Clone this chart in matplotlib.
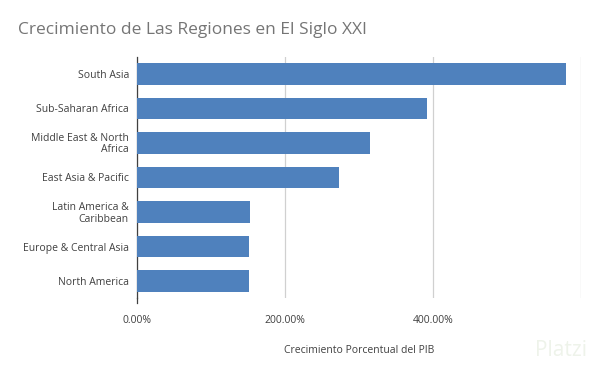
import matplotlib
matplotlib.use("Agg")
import matplotlib.pyplot as plt
from matplotlib.ticker import FuncFormatter

regions = ["South Asia", "Sub-Saharan Africa", "Middle East & North\nAfrica",
           "East Asia & Pacific", "Latin America &\nCaribbean",
           "Europe & Central Asia", "North America"]
growth = [5.79, 3.91, 3.14, 2.72, 1.52, 1.505, 1.505]
xticks = [0, 2, 4, 6]

plt.rcParams['font.family'] = ['Open Sans', 'DejaVu Sans']

fig = plt.figure(figsize=(6, 3.71), dpi=100)
ax = fig.add_axes([0.2288, 0.196, 0.7403, 0.6512])

ypos = list(range(len(regions)))
ax.barh(ypos, growth, height=0.63, color='#4f81bd', zorder=3)
ax.set_ylim(len(regions) - 0.5, -0.5)
ax.set_yticks(ypos)
ax.set_yticklabels(regions, fontsize=7.5, color='#404040', linespacing=1.0)
ax.set_xlim(0, 6)
ax.set_xticks(xticks)
ax.xaxis.set_major_formatter(FuncFormatter(lambda v, p: "" if v >= 6 else f"{v*100:.2f}%"))
ax.tick_params(axis='x', length=0, labelsize=7.5, labelcolor='#404040', pad=12)
ax.tick_params(axis='y', length=0, pad=6)
ax.grid(axis='x', color='#d0d0d0', linewidth=0.9, zorder=0)
for s in ['top', 'right', 'bottom']:
    ax.spines[s].set_visible(False)
ax.spines['left'].set_color('#404040')
ax.spines['left'].set_linewidth(0.9)
ax.plot([0, 0], [len(regions) - 0.5, len(regions) - 0.35], color='#404040',
        linewidth=0.9, clip_on=False, zorder=4)

ax.set_xlabel("Crecimiento Porcentual del PIB", fontsize=7.5, color='#404040', labelpad=14)

fig.text(0.03, 0.918, "Crecimiento de Las Regiones en El Siglo XXI", fontsize=12.5,
         color='#757575', va='center', ha='left')
fig.text(0.935, 0.055, "Platzi", fontsize=15, color='#eef3ea', va='center', ha='center')

fig.savefig("out.png", dpi=100)
